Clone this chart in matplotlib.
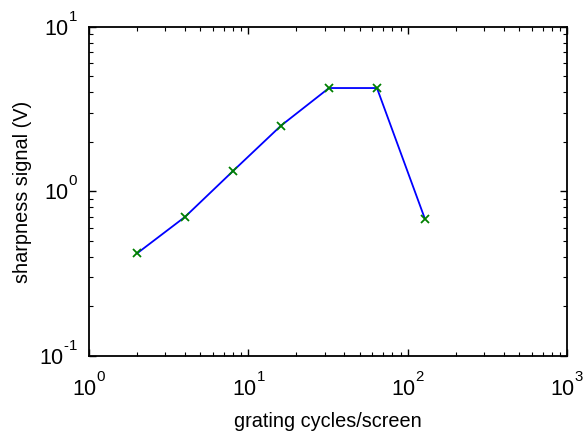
import matplotlib
matplotlib.use("Agg")
import matplotlib.pyplot as plt
import matplotlib._mathtext as mt
from matplotlib.transforms import ScaledTranslation

plt.rcParams['font.family'] = ['Liberation Sans', 'DejaVu Sans']
plt.rcParams['mathtext.fontset'] = 'custom'
plt.rcParams['mathtext.rm'] = 'Liberation Sans'
plt.rcParams['mathtext.it'] = 'Liberation Sans'
plt.rcParams['mathtext.default'] = 'regular'
mt.FontConstantsBase.sup1 = 1.2   # raise exponents like the original (matlab style)

cycles = [2, 4, 8, 16, 32, 64, 128]
signal = [0.42, 0.70, 1.33, 2.51, 4.25, 4.25, 0.68]
xtick_vals = [1, 10, 100, 1000]
xtick_labels = ['$10^{0}$', '$10^{1}$', '$10^{2}$', '$10^{3}$']
ytick_vals = [0.1, 1, 10]
ytick_labels = [r'$10^{\text{-}1}$', '$10^{0}$', '$10^{1}$']

fig = plt.figure(figsize=(5.86, 4.34), dpi=100)
ax = fig.add_axes([0.152, 0.180, 0.816, 0.758])

ax.plot(cycles, signal, color='b', lw=1.3)
ax.plot(cycles, signal, 'x', color='g', ms=6, mew=1.3)

ax.set_xscale('log')
ax.set_yscale('log')
ax.set_xlim(1, 1000)
ax.set_ylim(0.1, 10)
ax.set_xticks(xtick_vals)
ax.set_xticklabels(xtick_labels)
ax.set_yticks(ytick_vals)
ax.set_yticklabels(ytick_labels)
ax.tick_params(which='both', direction='in', top=True, right=True, labelsize=15.5)
ax.tick_params(which='major', length=5, width=1)
ax.tick_params(which='minor', length=3, width=0.8)
ax.tick_params(axis='x', pad=12)
ax.tick_params(axis='y', pad=8)
for s in ax.spines.values():
    s.set_linewidth(1.3)

# center the "10" (not the whole label) on the y ticks
shift = ScaledTranslation(0, -6.5 / 72, fig.dpi_scale_trans)
for lab in ax.get_yticklabels():
    lab.set_va('baseline')
    lab.set_transform(lab.get_transform() + shift)

ax.set_xlabel('grating cycles/screen', fontsize=14.3, labelpad=7.5)
ax.set_ylabel('sharpness signal (V)', fontsize=14.3, labelpad=5.5)

fig.savefig('out.png', dpi=100)
